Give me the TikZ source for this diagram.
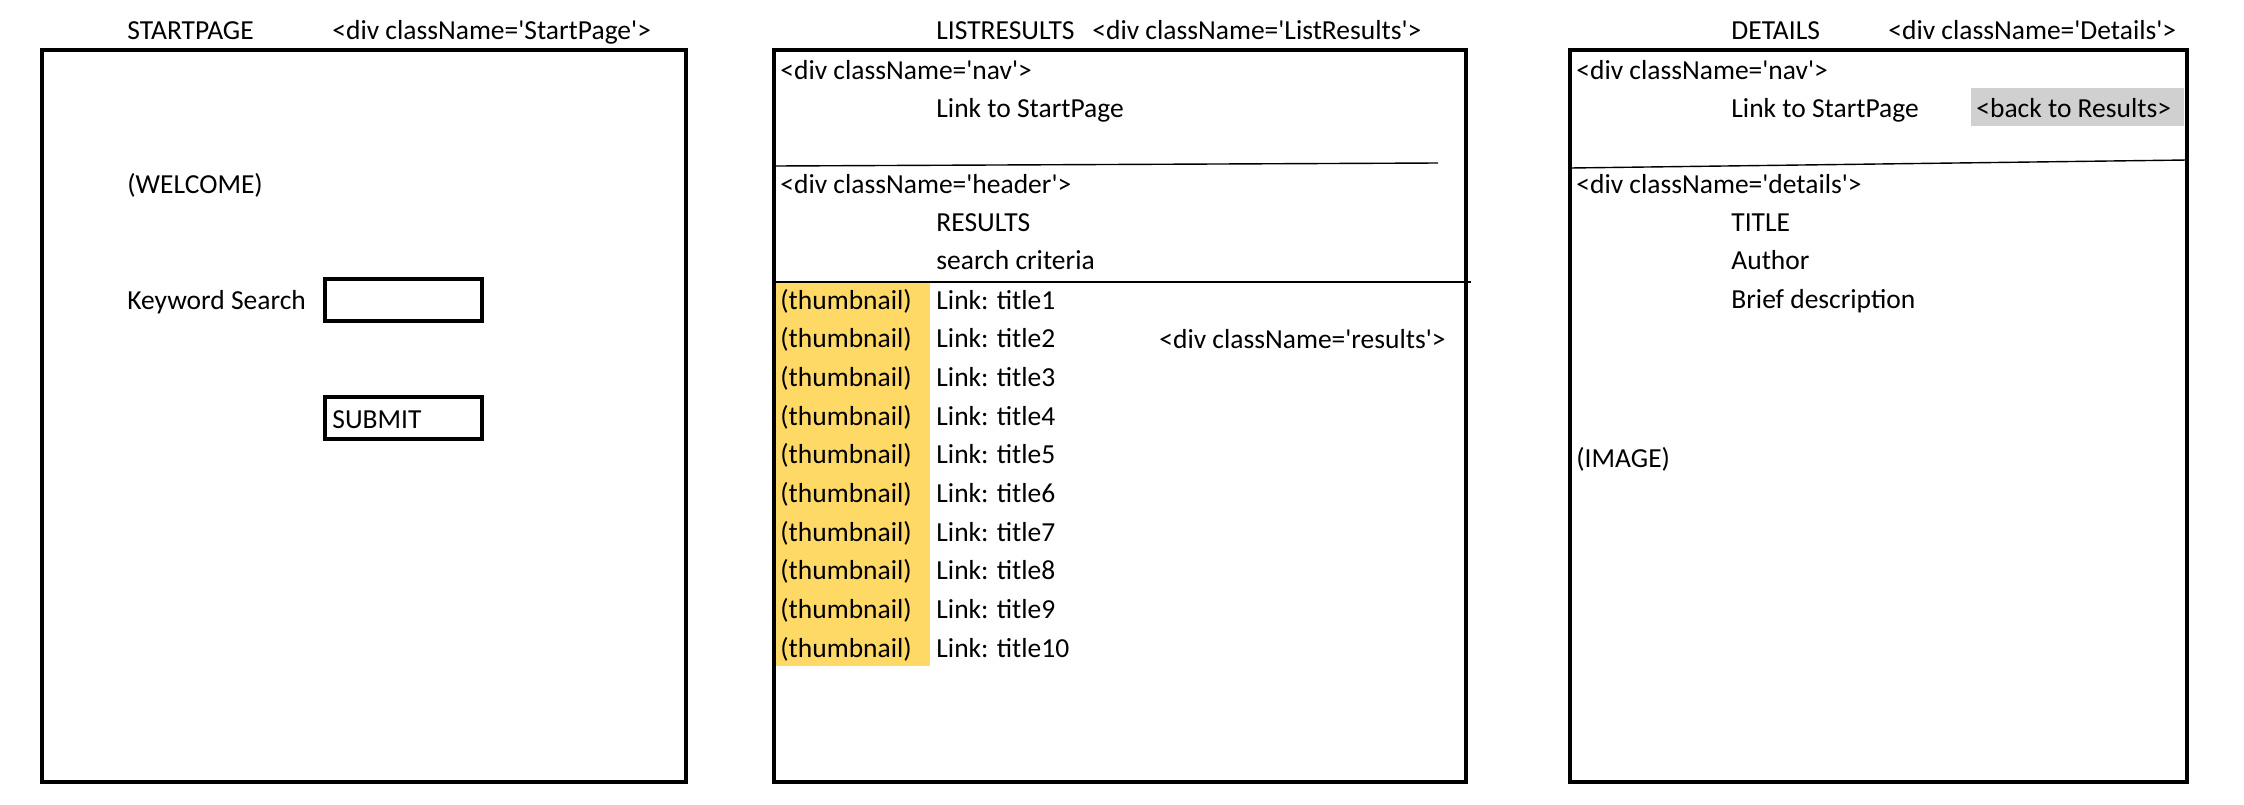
\documentclass[tikz,border=0pt]{standalone}
\usepackage{fontspec}
\setmainfont{Carlito}[Ligatures=TeXOff]
\usetikzlibrary{fit}
\definecolor{thumb}{HTML}{FFD966}
\definecolor{backgray}{HTML}{D0D0D0}
\begin{document}
\begin{tikzpicture}[x=0.5pt,y=-0.5pt,
  txt/.style={anchor=base west, inner sep=0pt, font=\fontsize{13.75}{16}\selectfont},
  frame/.style={draw, line width=2pt, inner sep=0pt},
  field/.style={draw, line width=1.8pt, inner sep=0pt},
  fillbox/.style={fill=#1, draw=none, inner sep=0pt},
  sepline/.style={line width=0.7pt}]
\useasboundingbox (0,0) rectangle (2244,804);

% ---------- fills ----------
\node[fillbox=thumb, fit={(774,282)(930,666)}] (thumbcol) {};
\node[fillbox=backgray, fit={(1971,88)(2184,126)}] (backbg) {};

% ---------- StartPage ----------
\node[frame, fit={(42,50)(686,782)}] (page1) {};
\node[txt] (t1) at (127,39) {STARTPAGE};
\node[txt] (d1) at (332,39) {<div className='StartPage'>};
\node[txt] (welcome) at (127,193) {(WELCOME)};
\node[txt] (kw) at (127,309) {Keyword Search};
\node[field, fit={(325,279)(482,321)}] (input) {};
\node[field, fit={(325,397)(482,439)}] (submitbox) {};
\node[txt] (submit) at (332,428) {SUBMIT};

% ---------- ListResults ----------
\node[frame, fit={(774,50)(1466,782)}] (page2) {};
\node[txt] (t2) at (936,39) {LISTRESULTS};
\node[txt] (d2) at (1092,39) {<div className='ListResults'>};
\node[txt] (nav2) at (780,79) {<div className='nav'>};
\node[txt] (link2) at (936,117) {Link to StartPage};
\coordinate (l1a) at (774,166);
\coordinate (l1b) at (1438,163);
\draw[sepline] (l1a) -- (l1b);
\node[txt] (hdr) at (780,193) {<div className='header'>};
\node[txt] (res) at (936,231) {RESULTS};
\node[txt] (crit) at (936,269) {search criteria};
\coordinate (l2a) at (774,282);
\coordinate (l2b) at (1471,282);
\draw[sepline] (l2a) -- (l2b);
\foreach \i in {1,...,10} {
  \pgfmathsetmacro{\yy}{309+(\i-1)*38.7}
  \node[txt] (th\i) at (780,\yy) {(thumbnail)};
  \node[txt] (lk\i) at (936,\yy) {Link: title\i};
}
\node[txt] (resdiv) at (1159,348) {<div className='results'>};

% ---------- Details ----------
\node[frame, fit={(1570,50)(2187,782)}] (page3) {};
\node[txt] (t3) at (1731,39) {DETAILS};
\node[txt] (d3) at (1888,39) {<div className='Details'>};
\node[txt] (nav3) at (1576,79) {<div className='nav'>};
\node[txt] (link3) at (1731,117) {Link to StartPage};
\node[txt] (back) at (1976,117) {<back to Results>};
\coordinate (l3a) at (1570,168);
\coordinate (l3b) at (2187,160);
\draw[sepline] (l3a) -- (l3b);
\node[txt] (det) at (1576,193) {<div className='details'>};
\node[txt] (title) at (1731,231) {TITLE};
\node[txt] (author) at (1731,269) {Author};
\node[txt] (brief) at (1731,308) {Brief description};
\node[txt] (image) at (1576,467) {(IMAGE)};
\end{tikzpicture}
\end{document}
